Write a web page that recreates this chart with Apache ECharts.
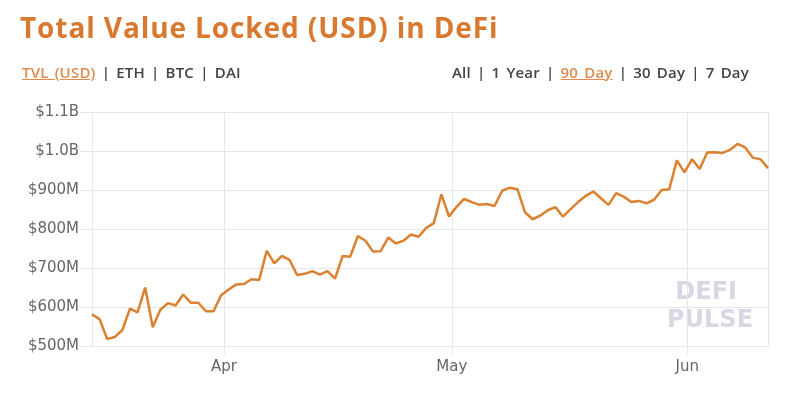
<!DOCTYPE html>
<html lang="en">
<head>
    <meta charset="UTF-8">
    <title>Total Value Locked (USD) in DeFi</title>
    <script src="https://cdn.jsdelivr.net/npm/echarts@6/dist/echarts.min.js"></script>
    <style>
        body { margin: 0; background: #fff; font-family: "Open Sans", sans-serif; }
        #wrap { position: relative; width: 791px; height: 398px; }
        #chart { position: absolute; left: 0; top: 0; width: 791px; height: 398px; }
        .head { position: absolute; left: 20px; top: 8px; font-size: 28px; line-height: 38px; letter-spacing: 0.9px; font-weight: bold; color: #d9782f; }
        .links { position: absolute; top: 62px; font-size: 15px; line-height: 20px; font-weight: 600; color: #444; word-spacing: 2px; letter-spacing: 0.2px; }
        .links .on { color: #de8a4c; text-decoration: underline; }
    </style>
</head>
<body>
<div id="wrap">
    <div id="chart"></div>
    <div class="head">Total Value Locked (USD) in DeFi</div>
    <div class="links" style="left: 22px"><span class="on">TVL (USD)</span> | ETH | BTC | DAI</div>
    <div class="links" style="left: 452px">All | 1 Year | <span class="on">90 Day</span> | 30 Day | 7 Day</div>
</div>
<script type="text/javascript">
    // daily TVL in millions of USD, 90 days starting 14 Mar 2020
    var startDay = Date.UTC(2020, 2, 14, 15);
    var tvl = [
        581, 569, 518, 523, 541, 596, 586, 650, 548, 593,
        610, 604, 632, 611, 611, 589, 589, 630, 645, 658,
        659, 671, 669, 744, 712, 731, 721, 682, 685, 692,
        683, 692, 673, 731, 729, 782, 770, 742, 743, 778,
        763, 770, 786, 780, 803, 815, 889, 832, 857, 877,
        869, 862, 864, 859, 898, 906, 902, 843, 825, 834,
        848, 856, 832, 851, 869, 885, 896, 879, 862, 892,
        883, 869, 872, 866, 875, 900, 902, 976, 945, 979,
        954, 996, 997, 995, 1003, 1018, 1009, 983, 979, 956
    ];
    var days = tvl.map(function (v, i) {
        return startDay + i * 86400000;
    });
    var points = tvl.map(function (v, i) {
        return [days[i], v];
    });

    var gridColor = '#e6e6e6';
    var labelFont = '"DejaVu Sans", sans-serif';
    var myChart = echarts.init(document.getElementById('chart'));
    var option = {
        animation: false,
        grid: { left: 92, right: 23, top: 112, bottom: 52 },
        xAxis: {
            type: 'time',
            min: days[0],
            max: days[days.length - 1],
            minInterval: 28 * 86400000,
            axisLine: { lineStyle: { color: gridColor } },
            axisTick: { show: true, length: 8, lineStyle: { color: gridColor } },
            splitLine: { show: true, lineStyle: { color: gridColor, width: 1 } },
            axisLabel: {
                formatter: '{MMM}',
                color: '#666',
                fontSize: 15,
                margin: 14,
                fontFamily: labelFont,
                showMinLabel: false,
                showMaxLabel: false
            }
        },
        yAxis: {
            type: 'value',
            min: 500,
            max: 1100,
            interval: 100,
            axisLine: { show: true, lineStyle: { color: gridColor } },
            axisTick: { show: true, length: 12, lineStyle: { color: gridColor } },
            splitLine: { lineStyle: { color: gridColor, width: 1 } },
            axisLabel: {
                color: '#666',
                fontSize: 15,
                margin: 13,
                fontFamily: labelFont,
                formatter: function (v) {
                    return v >= 1000 ? '$' + (v / 1000).toFixed(1) + 'B' : '$' + v + 'M';
                }
            }
        },
        graphic: [{
            type: 'text',
            left: 667,
            top: 279,
            z: 0,
            style: {
                text: ' DEFI\nPULSE',
                fill: '#d8d8e4',
                font: 'bold 24px "DejaVu Sans", sans-serif',
                lineHeight: 28,
                align: 'left'
            }
        }],
        series: [{
            type: 'line',
            data: points,
            showSymbol: false,
            z: 5,
            lineStyle: { color: '#dc812f', width: 2.5 }
        }]
    };
    myChart.setOption(option);
</script>
</body>
</html>
